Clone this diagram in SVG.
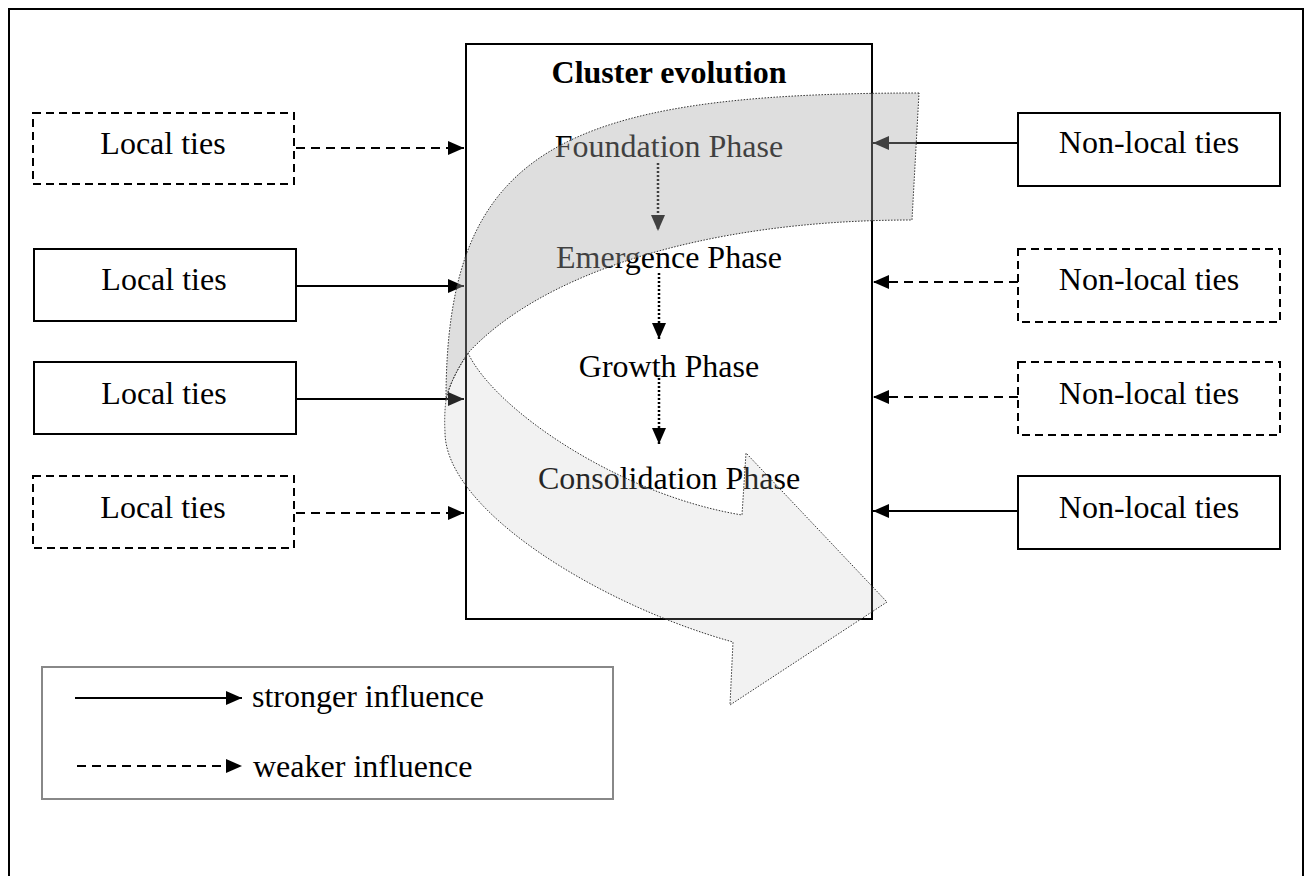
<svg xmlns="http://www.w3.org/2000/svg" width="1305" height="876" viewBox="0 0 1305 876">
<defs>
<marker id="ah" markerUnits="userSpaceOnUse" markerWidth="16" markerHeight="14" refX="16" refY="7" orient="auto">
<path d="M0,0 L16,7 L0,14 Z" fill="#000"/>
</marker>
<style>
.t{font-family:"Liberation Serif","Times New Roman",serif;font-size:32px;fill:#000;text-anchor:middle}
.tl{font-family:"Liberation Serif","Times New Roman",serif;font-size:32px;fill:#000}
.bs{fill:#fff;stroke:#000;stroke-width:2}
.bd{fill:#fff;stroke:#000;stroke-width:2;stroke-dasharray:8 5}
.ls{stroke:#000;stroke-width:2;fill:none;marker-end:url(#ah)}
.ld{stroke:#000;stroke-width:2;fill:none;stroke-dasharray:9 6;marker-end:url(#ah)}
.lp{stroke:#000;stroke-width:2.5;fill:none;stroke-dasharray:2 2;marker-end:url(#ah)}
.ca{stroke:#333;stroke-width:1;stroke-dasharray:1.5 1.5}
</style>
</defs>
<rect x="9" y="9" width="1294" height="900" fill="#fff" stroke="#000" stroke-width="2"/>

<g id="main-box">
<rect x="466" y="44" width="406" height="575" class="bs"/>
<text x="669" y="83" class="t" font-weight="bold">Cluster evolution</text>
</g>
<g id="phase-foundation"><text x="669" y="157" class="t">Foundation Phase</text></g>
<g id="phase-emergence"><text x="669" y="268" class="t">Emergence Phase</text></g>
<g id="phase-growth"><text x="669" y="377" class="t">Growth Phase</text></g>
<g id="phase-consolidation"><text x="669" y="489" class="t">Consolidation Phase</text></g>

<g id="local-1"><rect x="33" y="113" width="261" height="71" class="bd"/><text x="163" y="154" class="t">Local ties</text></g>
<g id="local-2"><rect x="34" y="249" width="262" height="72" class="bs"/><text x="164" y="290" class="t">Local ties</text></g>
<g id="local-3"><rect x="34" y="362" width="262" height="72" class="bs"/><text x="164" y="404" class="t">Local ties</text></g>
<g id="local-4"><rect x="33" y="476" width="261" height="72" class="bd"/><text x="163" y="518" class="t">Local ties</text></g>

<g id="nonlocal-1"><rect x="1018" y="113" width="262" height="73" class="bs"/><text x="1149" y="153" class="t">Non-local ties</text></g>
<g id="nonlocal-2"><rect x="1018" y="249" width="262" height="73" class="bd"/><text x="1149" y="290" class="t">Non-local ties</text></g>
<g id="nonlocal-3"><rect x="1018" y="362" width="262" height="73" class="bd"/><text x="1149" y="404" class="t">Non-local ties</text></g>
<g id="nonlocal-4"><rect x="1018" y="476" width="262" height="73" class="bs"/><text x="1149" y="518" class="t">Non-local ties</text></g>

<g id="connectors">
<line x1="296" y1="148" x2="464" y2="148" class="ld"/>
<line x1="296" y1="286" x2="464" y2="286" class="ls"/>
<line x1="296" y1="399" x2="464" y2="399" class="ls"/>
<line x1="296" y1="513" x2="464" y2="513" class="ld"/>
<line x1="1018" y1="143" x2="873" y2="143" class="ls"/>
<line x1="1018" y1="282" x2="873" y2="282" class="ld"/>
<line x1="1018" y1="397" x2="873" y2="397" class="ld"/>
<line x1="1018" y1="511" x2="873" y2="511" class="ls"/>
<line x1="658" y1="163" x2="658" y2="231" class="lp"/>
<line x1="659" y1="273" x2="659" y2="339" class="lp"/>
<line x1="659" y1="378" x2="659" y2="444" class="lp"/>
</g>

<g id="legend">
<rect x="42" y="667" width="571" height="132" fill="#fff" stroke="#888" stroke-width="2"/>
<line x1="75" y1="698" x2="242" y2="698" class="ls"/>
<text x="252" y="707" class="tl">stronger influence</text>
<line x1="77" y1="766" x2="242" y2="766" class="ld"/>
<text x="253" y="777" class="tl">weaker influence</text>
</g>

<g id="curved-arrow">
<path class="ca" fill="#a8a8a8" fill-opacity="0.38" d="M919,93 C559,93 446,150 446,400 C449,385 458,368 468,353 C540,275 700,220 912,220 Z"/>
<path class="ca" fill="#bcbcbc" fill-opacity="0.2" d="M468,353 C495,410 620,495 742,515 L746,453 L887,602 L730,705 L733,642 C600,605 445,510 445,432 Q444,416 446,400 C449,385 458,368 468,353 Z"/>
</g>
</svg>
